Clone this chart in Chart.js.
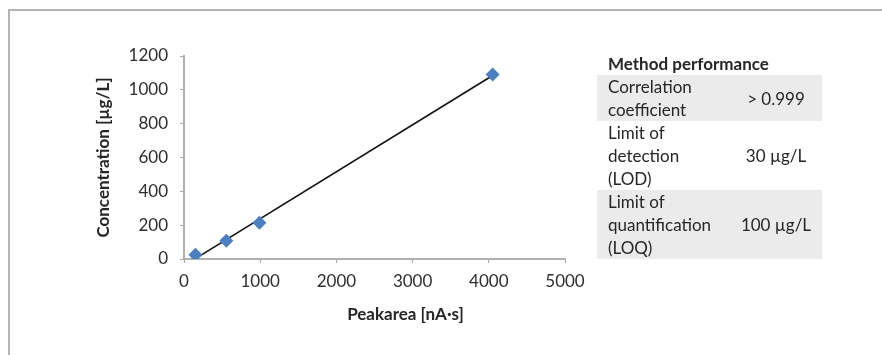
<!DOCTYPE html>
<html>
<head>
<meta charset="utf-8">
<script src="https://cdn.jsdelivr.net/npm/chart.js@4/dist/chart.umd.min.js"></script>
<style>
  html, body { margin: 0; padding: 0; background: #fff; }
  body { width: 882px; height: 355px; position: relative; overflow: hidden; font-family: Lato, 'Open Sans', sans-serif; }
  .frame { position: absolute; left: 8px; top: 9px; right: -10px; bottom: -10px; border-top: 2px solid #b4b4b4; border-left: 2px solid #b4b4b4; }
  #chart { position: absolute; left: 0; top: 0; }
  .perf { position: absolute; left: 597px; top: 53px; width: 225px; border-collapse: collapse; color: #262626; font-size: 17px; line-height: 23px; }
  .perf th { text-align: left; font-weight: bold; padding: 0 0 0 11px; height: 22px; line-height: 22px; }
  .perf td { padding: 0; vertical-align: middle; }
  .perf td.lbl { padding-left: 11px; width: 122px; }
  .perf td.val { text-align: center; }
  .perf tr.shade td { background: #ebebeb; }
</style>
</head>
<body>
<div class="frame"></div>
<canvas id="chart" width="882" height="355"></canvas>
<table class="perf" id="perf"></table>
<script>
// calibration points
const peakArea = [150, 555, 990, 4050];        // nA·s
const concentration = [25, 108, 215, 1090];    // µg/L

const xTicks = [0, 1000, 2000, 3000, 4000, 5000];
const yTicks = [0, 200, 400, 600, 800, 1000, 1200];

const xTitle = 'Peakarea [nA·s]';
const yTitle = 'Concentration [µg/L]';

const tableTitle = 'Method performance';
const metricLabels = [['Correlation', 'coefficient'], ['Limit of', 'detection', '(LOD)'], ['Limit of', 'quantification', '(LOQ)']];
const metricValues = ['> 0.999', '30 µg/L', '100 µg/L'];

// least squares trendline, like the spreadsheet one
function trend(xs, ys) {
    const n = xs.length;
    const mx = xs.reduce((a, b) => a + b, 0) / n;
    const my = ys.reduce((a, b) => a + b, 0) / n;
    let sxy = 0, sxx = 0;
    for (let i = 0; i < n; i++) {
        sxy += (xs[i] - mx) * (ys[i] - my);
        sxx += (xs[i] - mx) * (xs[i] - mx);
    }
    const k = sxy / sxx;
    const b = my - k * mx;
    const x0 = Math.min(...xs), x1 = Math.max(...xs);
    return [{ x: x0, y: k * x0 + b }, { x: x1, y: k * x1 + b }];
}

const points = peakArea.map((x, i) => ({ x: x, y: concentration[i] }));

// axis titles drawn relative to the plot area
const axisTitles = {
    id: 'axisTitles',
    afterDraw(chart) {
        const { ctx, chartArea } = chart;
        ctx.save();
        ctx.fillStyle = '#262626';
        ctx.font = 'bold 17px Lato, sans-serif';
        ctx.textAlign = 'center';
        ctx.textBaseline = 'middle';
        ctx.fillText(xTitle, (chartArea.left + chartArea.right) / 2 + 31, chartArea.bottom + 56);
        ctx.translate(chartArea.left - 80, (chartArea.top + chartArea.bottom) / 2);
        ctx.rotate(-Math.PI / 2);
        ctx.fillText(yTitle, 0, 0);
        ctx.restore();
    }
};

const tickFont = { family: 'Lato, sans-serif', size: 17 };

new Chart(document.getElementById('chart').getContext('2d'), {
    type: 'scatter',
    data: {
        datasets: [{
            label: 'Calibration',
            data: points,
            pointStyle: 'rectRot',
            pointRadius: 7,
            backgroundColor: '#4a7fc1',
            borderColor: '#4a7fc1',
            borderWidth: 0,
            order: 1
        }, {
            label: 'Trend',
            type: 'line',
            data: trend(peakArea, concentration),
            borderColor: '#111',
            borderWidth: 1.6,
            pointRadius: 0,
            fill: false,
            order: 2
        }]
    },
    options: {
        responsive: false,
        devicePixelRatio: 1,
        animation: false,
        layout: { padding: { left: 84, top: 56, right: 317, bottom: 46 } },
        plugins: { legend: { display: false }, tooltip: { enabled: false } },
        scales: {
            x: {
                type: 'linear',
                min: xTicks[0],
                max: xTicks[xTicks.length - 1],
                afterBuildTicks: s => { s.ticks = xTicks.map(v => ({ value: v })); },
                afterFit: s => { s.height = 50; },
                grid: { drawOnChartArea: false, color: '#a8a8a8', tickLength: 4 },
                border: { color: '#b0b0b0', width: 2 },
                ticks: { color: '#2e2e2e', font: tickFont, padding: 8, maxRotation: 0, callback: v => String(v) }
            },
            y: {
                type: 'linear',
                min: yTicks[0],
                max: yTicks[yTicks.length - 1],
                afterBuildTicks: s => { s.ticks = yTicks.map(v => ({ value: v })); },
                afterFit: s => { s.width = 100; },
                grid: { drawOnChartArea: false, color: '#a8a8a8', tickLength: 4 },
                border: { color: '#b0b0b0', width: 2 },
                ticks: { color: '#2e2e2e', font: tickFont, padding: 12, callback: v => String(v) }
            }
        }
    },
    plugins: [axisTitles]
});

// method performance table
const tbl = document.getElementById('perf');
let html = '<tr><th colspan="2">' + tableTitle + '</th></tr>';
metricLabels.forEach((lines, i) => {
    html += '<tr class="' + (i % 2 === 0 ? 'shade' : '') + '"><td class="lbl">' + lines.join('<br>') +
        '</td><td class="val">' + metricValues[i] + '</td></tr>';
});
tbl.innerHTML = html;
</script>
</body>
</html>
